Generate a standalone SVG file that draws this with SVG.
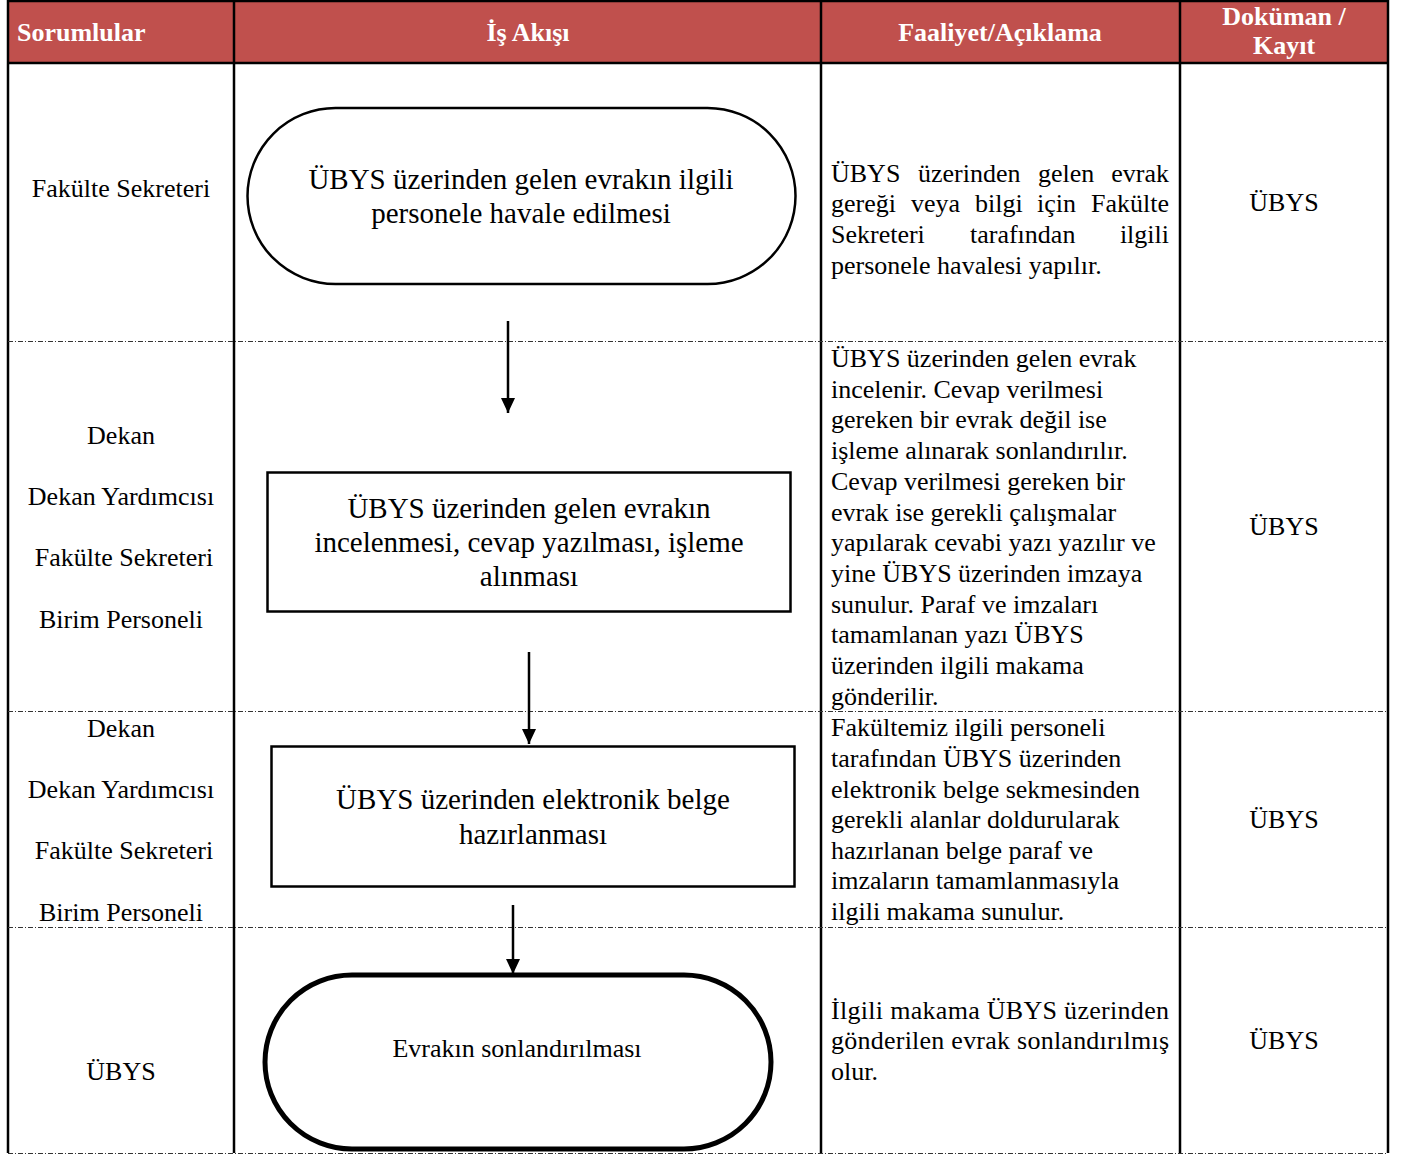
<svg xmlns="http://www.w3.org/2000/svg" width="1406" height="1155" viewBox="0 0 1406 1155">
<defs>
<marker id="ah" markerWidth="16" markerHeight="16" refX="15" refY="8" orient="auto" markerUnits="userSpaceOnUse" viewBox="0 0 16 16">
<path d="M0,1 L15,8 L0,15 Z" fill="#000"/>
</marker>
<style>
.hd{font-family:"Liberation Serif","Times New Roman",serif;font-weight:bold;font-size:26px;fill:#fff}
.t{font-family:"Liberation Serif","Times New Roman",serif;font-size:26px;fill:#000}
.f{font-family:"Liberation Serif","Times New Roman",serif;font-size:29px;fill:#000;text-anchor:middle}
.c{text-anchor:middle}
.e{text-anchor:end}
.grid{stroke:#000;stroke-width:2.5;fill:none}
.dash{stroke:#333;stroke-width:1;stroke-dasharray:5 2 1 2;fill:none}
.conn{stroke:#000;stroke-width:2.5;fill:none}
</style>
</defs>
<rect width="1406" height="1155" fill="#fff"/>
<!-- header -->
<g id="header">
<rect x="8" y="1" width="1380" height="61" fill="#C0504D"/>
<text class="hd" x="17" y="41">Sorumlular</text>
<text class="hd c" x="528" y="41">İş Akışı</text>
<text class="hd c" x="1000" y="41">Faaliyet/Açıklama</text>
<text class="hd c" x="1284" y="25">Doküman /</text>
<text class="hd c" x="1284" y="54">Kayıt</text>
</g>
<!-- grid -->
<g id="grid">
<line class="grid" x1="8" y1="1" x2="1388" y2="1"/>
<line class="grid" x1="8" y1="63" x2="1388" y2="63" stroke-width="3"/>
<line class="grid" x1="8" y1="0" x2="8" y2="1153"/>
<line class="grid" x1="234" y1="0" x2="234" y2="1153"/>
<line class="grid" x1="821" y1="0" x2="821" y2="1153"/>
<line class="grid" x1="1180" y1="0" x2="1180" y2="1153"/>
<line class="grid" x1="1388" y1="0" x2="1388" y2="1153"/>
<line class="dash" x1="8" y1="341.5" x2="1388" y2="341.5"/>
<line class="dash" x1="8" y1="711.5" x2="1388" y2="711.5"/>
<line class="dash" x1="8" y1="927.5" x2="1388" y2="927.5"/>
<line class="dash" x1="8" y1="1153.5" x2="1388" y2="1153.5"/>
</g>
<!-- column 1 -->
<g id="sorumlular">
<text class="t c" x="121" y="197">Fakülte Sekreteri</text>
<text class="t c" x="121" y="444">Dekan</text>
<text class="t c" x="121" y="505">Dekan Yardımcısı</text>
<text class="t c" x="124" y="566">Fakülte Sekreteri</text>
<text class="t c" x="121" y="628">Birim Personeli</text>
<text class="t c" x="121" y="737">Dekan</text>
<text class="t c" x="121" y="798">Dekan Yardımcısı</text>
<text class="t c" x="124" y="859">Fakülte Sekreteri</text>
<text class="t c" x="121" y="921">Birim Personeli</text>
<text class="t c" x="121" y="1080">ÜBYS</text>
</g>
<!-- nodes -->
<g id="node1">
<rect x="247.5" y="108" width="548" height="176" rx="88" ry="88" fill="#fff" stroke="#000" stroke-width="2.5"/>
<text class="f" x="521" y="189">ÜBYS üzerinden gelen evrakın ilgili</text>
<text class="f" x="521" y="223">personele havale edilmesi</text>
</g>
<g id="node2">
<rect x="267.5" y="472.5" width="523" height="139" fill="#fff" stroke="#000" stroke-width="2.5"/>
<text class="f" x="529" y="518">ÜBYS üzerinden gelen evrakın</text>
<text class="f" x="529" y="552">incelenmesi, cevap yazılması, işleme</text>
<text class="f" x="529" y="586">alınması</text>
</g>
<g id="node3">
<rect x="271.5" y="746.5" width="523" height="140" fill="#fff" stroke="#000" stroke-width="2.5"/>
<text class="f" x="533" y="809">ÜBYS üzerinden elektronik belge</text>
<text class="f" x="533" y="844">hazırlanması</text>
</g>
<g id="node4">
<rect x="265" y="975" width="506" height="174" rx="87" ry="87" fill="#fff" stroke="#000" stroke-width="5"/>
<text class="t c" x="517" y="1057">Evrakın sonlandırılması</text>
</g>
<!-- connectors -->
<g id="connectors">
<line class="conn" x1="508" y1="321" x2="508" y2="413" marker-end="url(#ah)"/>
<line class="conn" x1="529" y1="652" x2="529" y2="744" marker-end="url(#ah)"/>
<line class="conn" x1="513" y1="905" x2="513" y2="974" marker-end="url(#ah)"/>
</g>
<!-- column 3 -->
<g id="aciklama">
<text class="t" y="182"><tspan x="831">ÜBYS</tspan><tspan x="918">üzerinden</tspan><tspan x="1038">gelen</tspan></text>
<text class="t e" x="1169" y="182">evrak</text>
<text class="t" y="212"><tspan x="831">gereği</tspan><tspan x="911">veya</tspan><tspan x="975">bilgi</tspan><tspan x="1037">için</tspan></text>
<text class="t e" x="1169" y="212">Fakülte</text>
<text class="t" y="243"><tspan x="831">Sekreteri</tspan><tspan x="970">tarafından</tspan></text>
<text class="t e" x="1169" y="243">ilgili</text>
<text class="t" x="831" y="274">personele havalesi yapılır.</text>

<text class="t" x="831" y="367">ÜBYS üzerinden gelen evrak</text>
<text class="t" x="831" y="398">incelenir. Cevap verilmesi</text>
<text class="t" x="831" y="428">gereken bir evrak değil ise</text>
<text class="t" x="831" y="459">işleme alınarak sonlandırılır.</text>
<text class="t" x="831" y="490">Cevap verilmesi gereken bir</text>
<text class="t" x="831" y="521">evrak ise gerekli çalışmalar</text>
<text class="t" x="831" y="551">yapılarak cevabi yazı yazılır ve</text>
<text class="t" x="831" y="582">yine ÜBYS üzerinden imzaya</text>
<text class="t" x="831" y="613">sunulur. Paraf ve imzaları</text>
<text class="t" x="831" y="643">tamamlanan yazı ÜBYS</text>
<text class="t" x="831" y="674">üzerinden ilgili makama</text>
<text class="t" x="831" y="705">gönderilir.</text>

<text class="t" x="831" y="736">Fakültemiz ilgili personeli</text>
<text class="t" x="831" y="767">tarafından ÜBYS üzerinden</text>
<text class="t" x="831" y="798">elektronik belge sekmesinden</text>
<text class="t" x="831" y="828">gerekli alanlar doldurularak</text>
<text class="t" x="831" y="859">hazırlanan belge paraf ve</text>
<text class="t" x="831" y="889">imzaların tamamlanmasıyla</text>
<text class="t" x="831" y="920">ilgili makama sunulur.</text>

<text class="t" x="831" y="1019" textLength="338" lengthAdjust="spacing">İlgili makama ÜBYS üzerinden</text>
<text class="t" x="831" y="1049" textLength="338" lengthAdjust="spacing">gönderilen evrak sonlandırılmış</text>
<text class="t" x="831" y="1080">olur.</text>
</g>
<!-- column 4 -->
<g id="dokuman">
<text class="t c" x="1284" y="211">ÜBYS</text>
<text class="t c" x="1284" y="535">ÜBYS</text>
<text class="t c" x="1284" y="828">ÜBYS</text>
<text class="t c" x="1284" y="1049">ÜBYS</text>
</g>
</svg>
